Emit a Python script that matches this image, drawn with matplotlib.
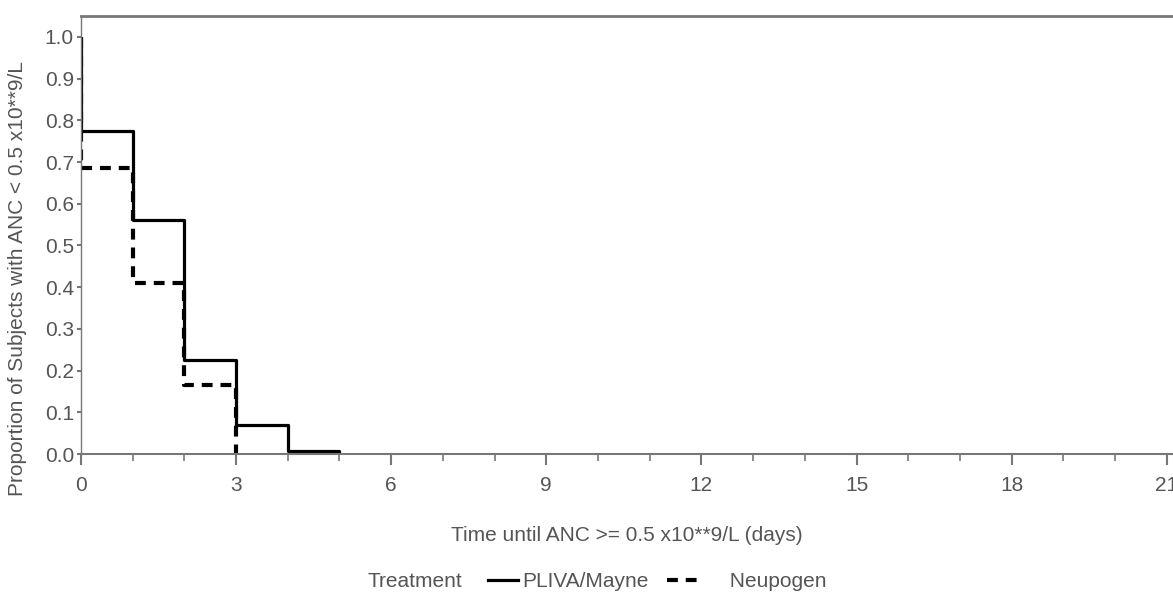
import matplotlib.pyplot as plt
from matplotlib.lines import Line2D

plt.rcParams['font.family'] = ['Liberation Sans', 'DejaVu Sans']

# Kaplan-Meier style step data
pliva_t = [0, 0, 1, 2, 3, 4, 5]
pliva_p = [1.0, 0.775, 0.56, 0.225, 0.07, 0.008, 0.0]
neup_t = [0, 0, 1, 2, 3]
neup_p = [1.0, 0.685, 0.41, 0.165, 0.0]

xticks = [0, 3, 6, 9, 12, 15, 18, 21]
yticks = [0.0, 0.1, 0.2, 0.3, 0.4, 0.5, 0.6, 0.7, 0.8, 0.9, 1.0]

txt = '#555555'
spine = '#777777'
fs = 15
dash = (2.6, 1.9)

fig = plt.figure(figsize=(11.73, 5.92), dpi=100)
ax = fig.add_axes([0.069, 0.233, 0.931, 0.740])

ax.step(pliva_t, pliva_p, where='post', color='black', lw=2.3, solid_capstyle='butt')
ax.step(neup_t, neup_p, where='post', color='black', lw=3.0, dashes=dash)

ax.set_xlim(0, 21.12)
ax.set_ylim(0, 1.05)
ax.set_xticks(xticks)
ax.set_xticks(range(0, 22), minor=True)
ax.set_yticks(yticks)
ax.set_yticklabels(['%.1f' % v for v in yticks])

ax.spines['right'].set_visible(False)
for s in ['left', 'bottom', 'top']:
    ax.spines[s].set_color(spine)
ax.spines['top'].set_linewidth(2.0)
ax.spines['bottom'].set_linewidth(1.5)
ax.spines['left'].set_linewidth(1.0)

ax.tick_params(axis='both', which='major', direction='out', width=1.5,
               color=spine, labelcolor=txt, labelsize=fs)
ax.tick_params(axis='x', which='major', length=8, pad=8)
ax.tick_params(axis='y', which='major', length=3, pad=2)
ax.tick_params(axis='x', which='minor', direction='out', length=5, width=1.2, color=spine)

ax.set_xlabel('Time until ANC >= 0.5 x10**9/L (days)', color=txt, fontsize=fs, labelpad=22)
ax.set_ylabel('Proportion of Subjects with ANC < 0.5 x10**9/L', color=txt, fontsize=fs)
ax.yaxis.set_label_coords(-0.0495, 0.40)

fig.text(0.3137, 0.0169, 'Treatment', color=txt, fontsize=fs, va='center')
handles = [Line2D([], [], color='black', lw=2.3),
           Line2D([], [], color='black', lw=3.0, dashes=dash)]
fig.legend(handles, ['PLIVA/Mayne', '     Neupogen'], loc='center left',
           bbox_to_anchor=(0.4075, 0.0169), ncol=2, frameon=False, fontsize=fs,
           borderpad=0, handlelength=1.44, handletextpad=0.2, columnspacing=0.87,
           labelcolor=txt)

plt.savefig('out.png', dpi=100)
